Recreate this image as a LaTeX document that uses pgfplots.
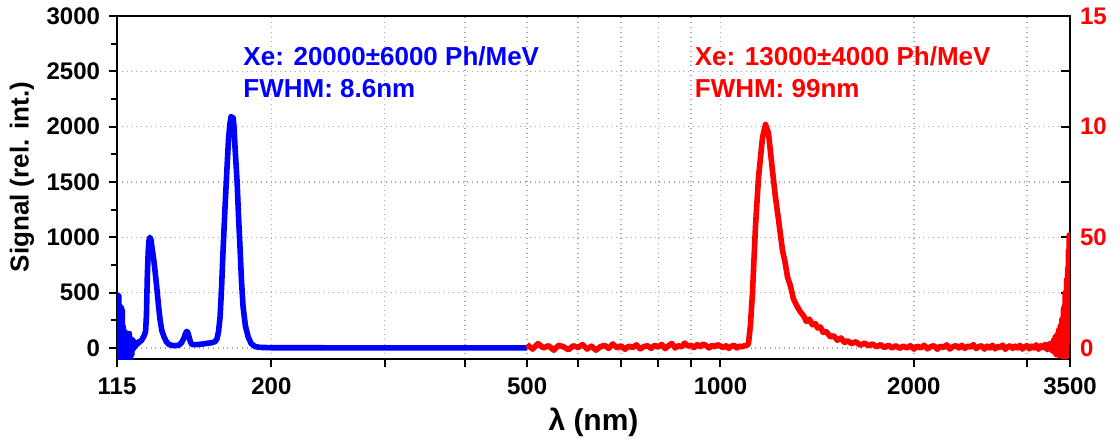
\documentclass[border=0pt]{standalone}
\usepackage{fontspec}
\setmainfont{Liberation Sans}
\usepackage{pgfplots}
\pgfplotsset{compat=1.18}
\definecolor{SpecBlue}{RGB}{0,0,255}
\definecolor{SpecRed}{RGB}{255,0,0}

% blue: VUV part, left axis (rel. int.)
\pgfplotstableread{
lam sig
115.0 470
115.1 -80
115.2 480
115.35 -60
115.5 460
115.6 -90
115.75 470
115.9 -50
116.0 380
116.15 -100
116.3 375
116.45 -70
116.6 370
116.75 -90
116.9 360
117.05 -60
117.2 340
117.35 -100
117.5 200
117.65 -80
117.8 160
117.95 -60
118.1 150
118.25 -90
118.4 145
118.55 -50
118.7 120
118.85 -100
119.0 100
119.15 -70
119.3 130
119.45 -90
119.6 90
119.75 -60
119.9 110
120.05 -80
120.2 130
120.35 -50
120.5 80
120.65 -90
120.8 70
120.95 -40
121.1 80
121.25 -60
121.4 60
121.55 -20
121.7 70
121.85 -10
122.0 60
122.2 0
122.4 50
122.6 10
122.8 45
123.0 20
123.3 45
123.6 30
124.0 55
124.4 45
124.8 60
125.2 60
125.6 70
126.0 85
126.5 100
127.0 125
127.4 150
127.8 300
128.2 650
128.6 870
129.0 975
129.4 1000
129.9 975
130.4 900
131.3 780
132.0 660
132.7 530
133.4 390
134.2 255
135.0 160
136.1 100
137.3 55
138.6 30
141.0 20
143.6 25
145.0 50
146.2 90
147.0 130
147.6 150
148.2 140
148.9 100
149.6 55
150.5 30
153.0 30
156.0 35
159.0 42
161.7 48
163.5 58
164.5 80
165.5 150
166.4 280
167.3 550
168.2 885
169.4 1280
170.6 1635
171.5 1880
172.3 2020
173.1 2090
173.7 2060
174.4 2080
175.0 1980
175.6 1800
176.9 1490
177.8 1180
178.8 885
179.7 600
180.7 370
182.2 200
184.0 100
186.0 40
188.7 12
192.0 5
200.0 2
260.0 1
500.0 1
}\bluedata

% red: NIR part, right axis
\pgfplotstableread{
lam sig
500 0.15
510 -0.05
520 0.2
530 0.0
540 0.1
550 -0.1
560 0.12
570 0.05
580 -0.08
590 0.1
600 0.02
610 0.15
620 -0.05
630 0.08
640 -0.1
650 0.05
660 0.12
670 -0.02
680 0.18
690 0.0
700 0.1
710 -0.06
720 0.08
730 0.02
740 0.14
750 -0.04
760 0.06
770 0.1
780 -0.02
790 0.12
800 0.04
810 0.16
820 -0.03
830 0.1
840 0.2
850 0.0
860 0.1
870 0.05
880 0.22
890 0.08
900 0.12
910 0.02
920 0.15
930 0.06
940 0.18
950 0.1
960 0.0
970 0.12
980 0.05
990 0.15
1000 0.08
1010 0.02
1020 0.1
1030 -0.02
1040 0.08
1050 0.12
1060 0.0
1070 0.08
1080 0.05
1090 0.1
1100 0.12
1105.5 0.2
1113 1.0
1121.5 2.5
1133.6 5.5
1145.9 7.7
1162.4 9.5
1175.0 10.1
1187.7 9.7
1204.8 8.0
1217.8 6.8
1231.0 5.8
1248.9 4.4
1260 3.9
1271.5 3.2
1285 2.8
1299.1 2.2
1315 1.9
1330 1.65
1347 1.45
1360 1.2
1375 1.3
1390 1.05
1405 1.1
1416 0.9
1430 0.95
1445 0.7
1460 0.75
1483 0.5
1500 0.55
1520 0.35
1540 0.45
1560 0.25
1577 0.32
1600 0.2
1625 0.28
1650 0.12
1675 0.22
1700 0.1
1725 0.18
1750 0.05
1775 0.15
1800 0.02
1825 0.12
1850 0.0
1875 0.1
1900 -0.02
1925 0.08
1950 0.0
1975 0.1
2000 -0.05
2025 0.08
2050 0.0
2075 0.12
2100 -0.04
2125 0.06
2150 0.1
2175 -0.06
2200 0.08
2225 0.02
2250 0.14
2275 -0.05
2300 0.06
2325 0.1
2350 0.0
2375 0.12
2400 -0.02
2425 0.08
2450 0.04
2475 0.15
2500 -0.03
2525 0.06
2550 0.1
2575 -0.05
2600 0.08
2625 0.0
2650 0.12
2675 -0.04
2700 0.07
2725 0.02
2750 0.13
2775 -0.06
2800 0.05
2825 0.1
2850 -0.02
2875 0.08
2900 0.0
2925 0.12
2950 -0.05
2975 0.06
3000 0.1
3025 -0.04
3050 0.08
3075 0.0
3100 0.14
3125 -0.06
3150 0.1
3175 0.02
3200 0.16
3225 -0.08
3250 0.2
3275 -0.1
3300 0.35
3310 -0.2
3320 0.5
3330 -0.3
3340 0.6
3350 -0.25
3360 0.8
3370 -0.35
3380 1.0
3390 -0.3
3400 1.3
3410 -0.4
3420 1.8
3430 -0.2
3440 2.5
3450 -0.4
3458 3.1
3465 0.2
3470 3.6
3475 0.6
3480 4.4
3485 1.2
3490 5.1
3495 2.4
3500 5.0
}\reddata

\pgfplotsset{
  chartframe/.style={
    scale only axis, width=476.5pt, height=171.5pt,
    xmin=115, xmax=3500,
    /pgf/number format/assume math mode=true,
    /pgf/number format/1000 sep={},
    tick label style={font=\bfseries\fontsize{12}{14}\selectfont},
    axis line style={line width=1pt},
    every tick/.style={black, line width=1pt},
  },
}

\begin{document}
\begin{tikzpicture}
\begin{axis}[xmode=log, chartframe, name=main,
  ymin=-100, ymax=3000,
  xtick={115,200,300,400,500,600,700,800,900,1000,2000,3000,3500},
  xticklabels={115,200,,,500,,,,,1000,2000,,3500},
  ytick={0,500,1000,1500,2000,2500,3000},
  minor ytick={250,750,1250,1750,2250,2750},
  xtick pos=left, ytick pos=left,
  tick align=outside,
  major tick length=4pt, minor tick length=3pt,
  xmajorgrids, ymajorgrids,
  grid style={dotted, gray!70, line width=0.7pt},
  xticklabel style={yshift=-2pt},
  yticklabel style={xshift=-1pt},
  xlabel={λ (nm)},
  xlabel style={font=\bfseries\fontsize{15}{18}\selectfont, at={(axis description cs:0.5,0)}, anchor=base, yshift=-35.5pt},
  ylabel={Signal (rel. int.)},
  ylabel style={font=\bfseries\fontsize{13}{15}\selectfont, at={(axis description cs:-0.0997,0.53)}, anchor=center, rotate=0},
]
\addplot[SpecBlue, line width=2.8pt, line join=round] table[x=lam, y=sig] {\bluedata};
\node[SpecBlue, anchor=base west, inner sep=0pt, font=\bfseries\fontsize{13}{15}\selectfont] at (axis cs:180.7,2557) {Xe: 20000±6000 Ph/MeV};
\node[SpecBlue, anchor=base west, inner sep=0pt, font=\bfseries\fontsize{13}{15}\selectfont] at (axis cs:180.7,2268) {FWHM: 8.6nm};
\node[SpecRed, anchor=base west, inner sep=0pt, font=\bfseries\fontsize{13}{15}\selectfont] at (axis cs:911,2557) {Xe: 13000±4000 Ph/MeV};
\node[SpecRed, anchor=base west, inner sep=0pt, font=\bfseries\fontsize{13}{15}\selectfont] at (axis cs:911,2268) {FWHM: 99nm};
\end{axis}
\begin{axis}[xmode=log, chartframe,
  ymin=-0.5, ymax=15,
  axis x line=none, axis y line*=right,
  ytick={0,5,10,15}, yticklabels={0,50,10,15},
  minor ytick={2.5,7.5,12.5},
  ytick align=inside,
  major tick length=4.5pt, minor tick length=4.5pt,
  yticklabel style={text=SpecRed, xshift=1.5pt},
]
\addplot[SpecRed, line width=2.8pt, line join=round] table[x=lam, y=sig] {\reddata};
\end{axis}
\pgfresetboundingbox
\path[use as bounding box] ([xshift=-58.5pt,yshift=-41pt]main.south west) rectangle ([xshift=25pt,yshift=8pt]main.north east);
\end{tikzpicture}
\end{document}
